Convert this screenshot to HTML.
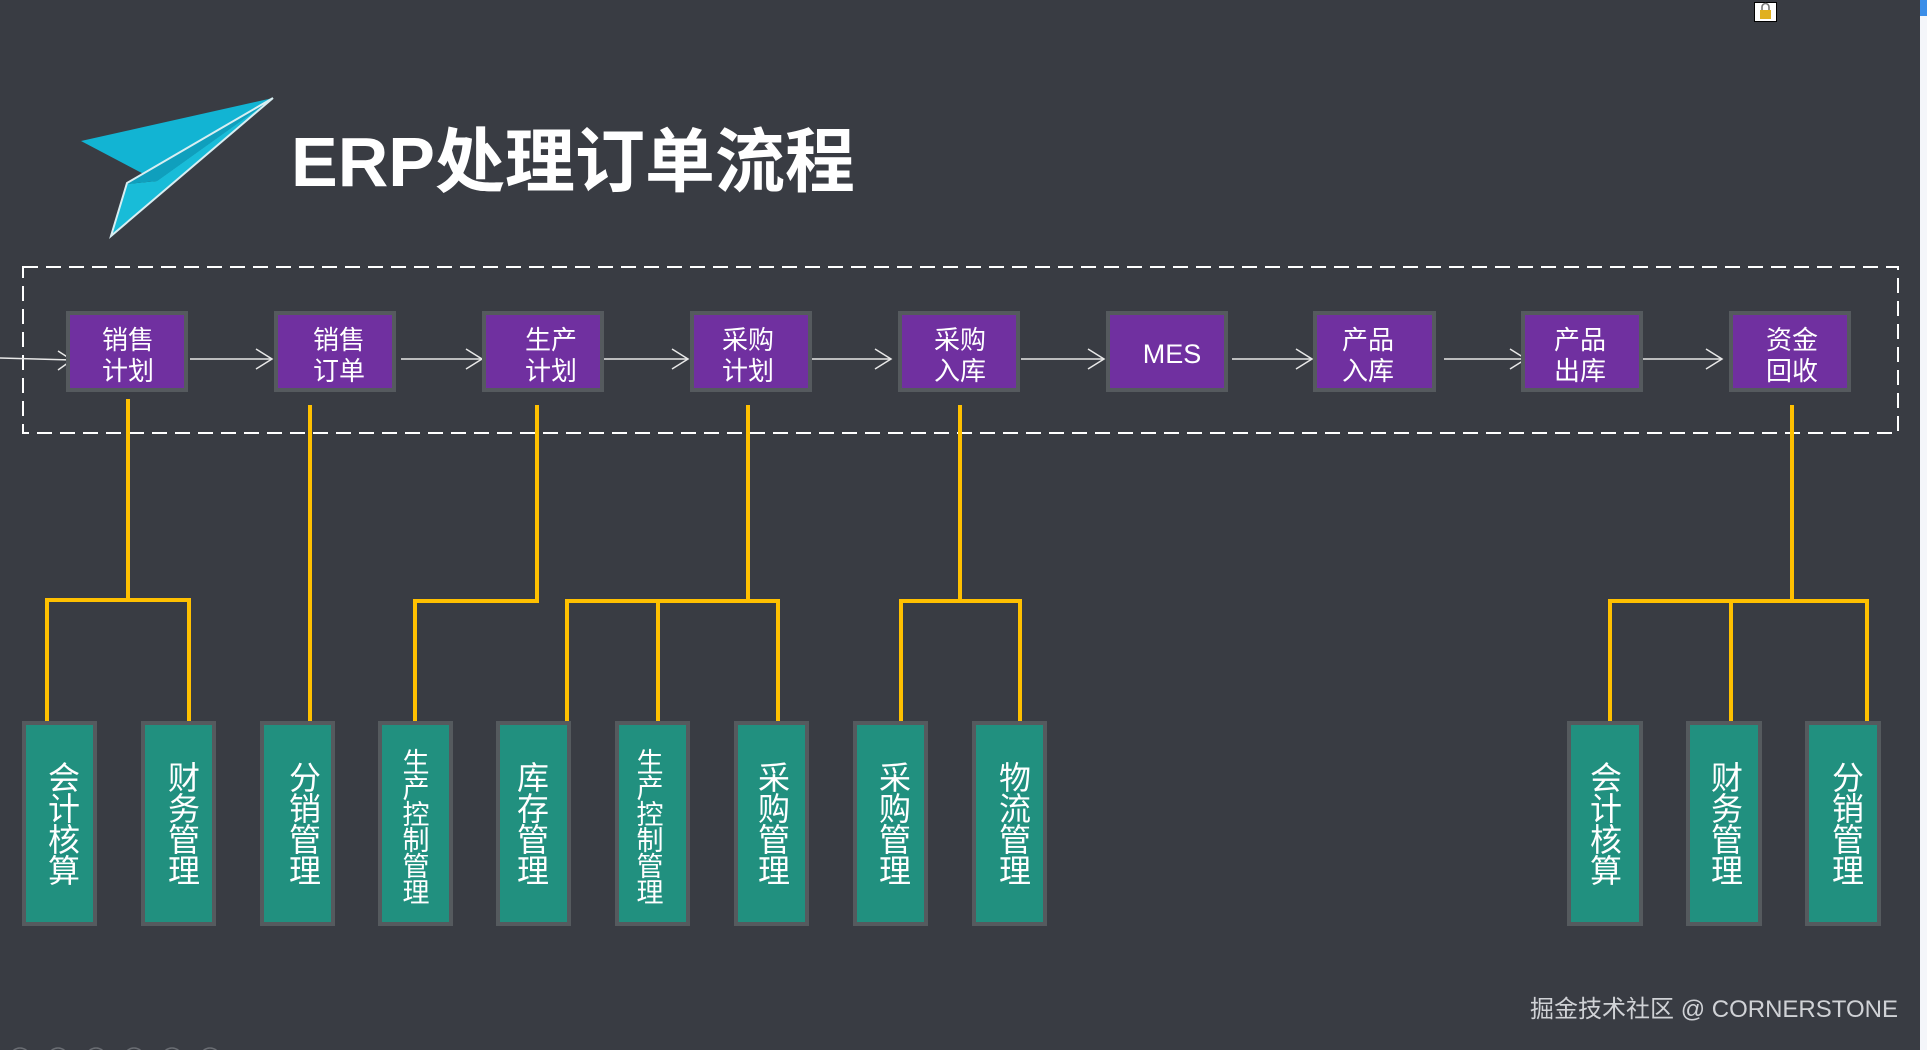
<!DOCTYPE html>
<html><head><meta charset="utf-8">
<style>
html,body{margin:0;padding:0;}
body{width:1927px;height:1050px;overflow:hidden;background:#393c43;}
svg{position:absolute;left:0;top:0;}
text{font-family:"Liberation Sans","Noto Sans CJK SC",sans-serif;}
</style></head><body>
<svg width="1927" height="1050" viewBox="0 0 1927 1050" xmlns="http://www.w3.org/2000/svg">
<rect width="1927" height="1050" fill="#393c43"/>
<rect x="1920" y="0" width="7" height="1050" fill="#f4f6fa"/>
<rect x="1920" y="0" width="7" height="16" fill="#3b8ee8"/>
<rect x="1754.5" y="2.5" width="22" height="19" fill="#fff" stroke="#000" stroke-width="1"/>
<rect x="1760" y="10" width="11" height="9" fill="#e0b020"/>
<path d="M1762 10 v-3 a3.5 3.5 0 0 1 7 0 v3" fill="none" stroke="#777" stroke-width="1.6"/>
<polygon points="81,141 273,98 157,181" fill="#12b4d3"/>
<polygon points="157,181 273,98 111,236 127,184" fill="#18bcd8"/>
<polygon points="127,184 273,98 157,181" fill="#0f9fbd"/>
<polyline points="273,98 127,183 111,236 273,98" fill="none" stroke="#d8eef2" stroke-width="2"/>
<text x="291" y="186" font-size="70" font-weight="bold" fill="#ffffff">ERP处理订单流程</text>
<rect x="23" y="267" width="1875" height="166" fill="none" stroke="#ffffff" stroke-width="2" stroke-dasharray="15 8"/>
<g stroke="#e8e8e8" stroke-width="1.5" fill="none">
<line x1="0" y1="358" x2="72" y2="360"/><polyline points="58,351 72,360 58,370"/>
<line x1="190" y1="359" x2="272" y2="359"/><polyline points="256,349 272,359 256,369"/>
<line x1="401" y1="359" x2="482" y2="359"/><polyline points="466,349 482,359 466,369"/>
<line x1="597" y1="359" x2="688" y2="359"/><polyline points="672,349 688,359 672,369"/>
<line x1="810" y1="359" x2="891" y2="359"/><polyline points="875,349 891,359 875,369"/>
<line x1="1021" y1="359" x2="1104" y2="359"/><polyline points="1088,349 1104,359 1088,369"/>
<line x1="1232" y1="359" x2="1312" y2="359"/><polyline points="1296,349 1312,359 1296,369"/>
<line x1="1444" y1="359" x2="1526" y2="359"/><polyline points="1510,349 1526,359 1510,369"/>
<line x1="1641" y1="359" x2="1722" y2="359"/><polyline points="1706,349 1722,359 1706,369"/>
</g>
<g fill="#7030a0" stroke="#555a5e" stroke-width="4">
<rect x="68" y="313" width="118" height="77"/>
<rect x="276" y="313" width="118" height="77"/>
<rect x="484" y="313" width="118" height="77"/>
<rect x="692" y="313" width="118" height="77"/>
<rect x="900" y="313" width="118" height="77"/>
<rect x="1108" y="313" width="118" height="77"/>
<rect x="1315" y="313" width="119" height="77"/>
<rect x="1523" y="313" width="118" height="77"/>
<rect x="1731" y="313" width="118" height="77"/>
</g>
<g fill="#ffffff" font-size="26" text-anchor="middle">
<text x="128" y="349">销售</text><text x="128" y="380">计划</text>
<text x="339" y="349">销售</text><text x="339" y="380">订单</text>
<text x="551" y="349">生产</text><text x="551" y="380">计划</text>
<text x="748" y="349">采购</text><text x="748" y="380">计划</text>
<text x="960" y="349">采购</text><text x="960" y="380">入库</text>
<text x="1172" y="363" font-size="27">MES</text>
<text x="1368" y="349">产品</text><text x="1368" y="380">入库</text>
<text x="1580" y="349">产品</text><text x="1580" y="380">出库</text>
<text x="1792" y="349">资金</text><text x="1792" y="380">回收</text>
</g>
<g stroke="#ffc000" stroke-width="4" fill="none">
<polyline points="128,399 128,600"/>
<polyline points="47,723 47,600 189,600 189,723"/>
<polyline points="310,405 310,723"/>
<polyline points="537,405 537,601 415,601 415,723"/>
<polyline points="748,405 748,601"/>
<polyline points="567,723 567,601 778,601 778,723"/>
<polyline points="658,601 658,723"/>
<polyline points="960,405 960,601"/>
<polyline points="901,723 901,601 1020,601 1020,723"/>
<polyline points="1792,405 1792,601"/>
<polyline points="1610,723 1610,601 1867,601 1867,723"/>
<polyline points="1731,601 1731,723"/>
</g>
<g fill="#21907f" stroke="#555a5e" stroke-width="4">
<rect x="24" y="723" width="71" height="201"/>
<rect x="143" y="723" width="71" height="201"/>
<rect x="262" y="723" width="71" height="201"/>
<rect x="380" y="723" width="71" height="201"/>
<rect x="498" y="723" width="71" height="201"/>
<rect x="617" y="723" width="71" height="201"/>
<rect x="736" y="723" width="71" height="201"/>
<rect x="855" y="723" width="71" height="201"/>
<rect x="974" y="723" width="71" height="201"/>
<rect x="1569" y="723" width="72" height="201"/>
<rect x="1688" y="723" width="72" height="201"/>
<rect x="1807" y="723" width="72" height="201"/>
</g>
<g fill="#ffffff" font-size="32" text-anchor="middle">
<text x="64" y="789">会</text><text x="64" y="820">计</text><text x="64" y="851">核</text><text x="64" y="882">算</text>
<text x="184" y="789">财</text><text x="184" y="820">务</text><text x="184" y="851">管</text><text x="184" y="882">理</text>
<text x="305" y="789">分</text><text x="305" y="820">销</text><text x="305" y="851">管</text><text x="305" y="882">理</text>
<g font-size="27">
<text x="416" y="772">生</text><text x="416" y="798">产</text><text x="416" y="824">控</text><text x="416" y="850">制</text><text x="416" y="876">管</text><text x="416" y="902">理</text>
<text x="650" y="772">生</text><text x="650" y="798">产</text><text x="650" y="824">控</text><text x="650" y="850">制</text><text x="650" y="876">管</text><text x="650" y="902">理</text>
</g>
<text x="533" y="789">库</text><text x="533" y="820">存</text><text x="533" y="851">管</text><text x="533" y="882">理</text>
<text x="774" y="789">采</text><text x="774" y="820">购</text><text x="774" y="851">管</text><text x="774" y="882">理</text>
<text x="895" y="789">采</text><text x="895" y="820">购</text><text x="895" y="851">管</text><text x="895" y="882">理</text>
<text x="1015" y="789">物</text><text x="1015" y="820">流</text><text x="1015" y="851">管</text><text x="1015" y="882">理</text>
<text x="1606" y="789">会</text><text x="1606" y="820">计</text><text x="1606" y="851">核</text><text x="1606" y="882">算</text>
<text x="1727" y="789">财</text><text x="1727" y="820">务</text><text x="1727" y="851">管</text><text x="1727" y="882">理</text>
<text x="1848" y="789">分</text><text x="1848" y="820">销</text><text x="1848" y="851">管</text><text x="1848" y="882">理</text>
</g>
<g fill="none" stroke="#6a6d73" stroke-width="1.5">
<circle cx="20" cy="1058" r="10"/><circle cx="58" cy="1058" r="10"/><circle cx="96" cy="1058" r="10"/>
<circle cx="134" cy="1058" r="10"/><circle cx="172" cy="1058" r="10"/><circle cx="210" cy="1058" r="10"/>
</g>
<text x="1898" y="1017" font-size="24" fill="#d0d2d6" text-anchor="end">掘金技术社区 @ CORNERSTONE</text>
</svg>
</body></html>
